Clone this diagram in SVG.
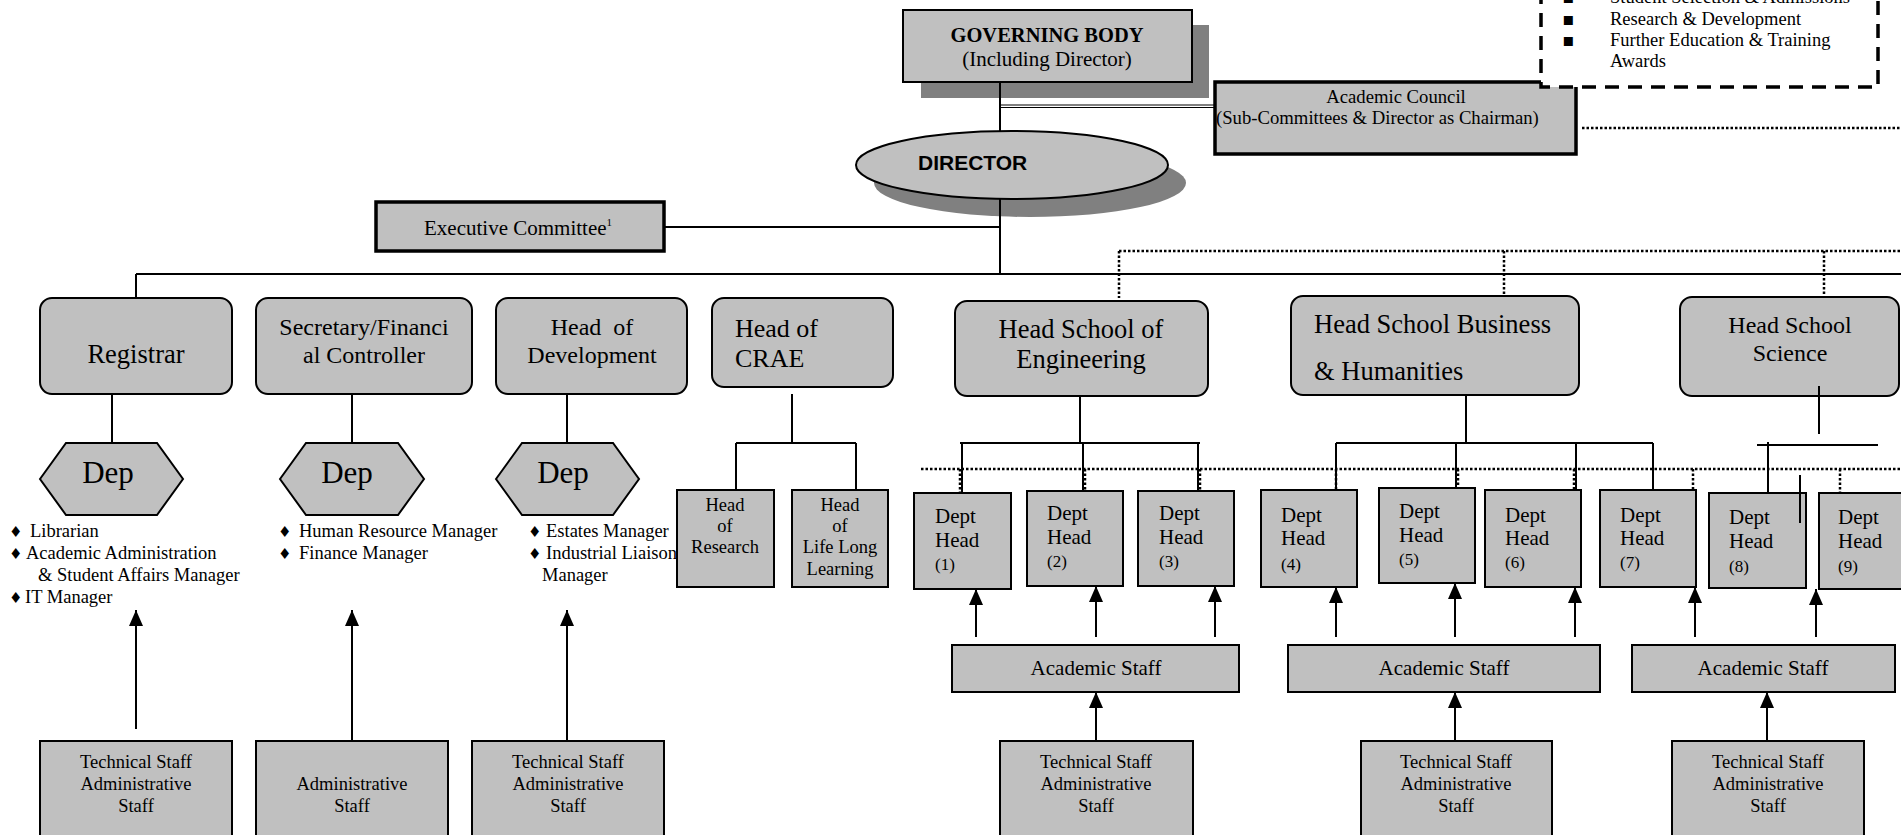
<svg xmlns="http://www.w3.org/2000/svg" width="1901" height="835" viewBox="0 0 1901 835">
<style>
.box{fill:#c0c0c0;stroke:#000;stroke-width:2}
.thick{stroke-width:3.5}
.sh{fill:#808080}
.t{font-family:"Liberation Serif","Times New Roman",serif;fill:#000}
.s18{font-size:18.5px}
.s21{font-size:21px}
.s24{font-size:24px}
.s26{font-size:26.5px}
.num{font-size:17px}
.m{text-anchor:middle}
.ln{stroke:#000;stroke-width:2;fill:none}
.thin{stroke:#000;stroke-width:1.2;fill:none}
.dot{stroke:#000;stroke-width:2.5;stroke-dasharray:2.5 2;fill:none}
.arr{stroke:#000;stroke-width:2;fill:none;marker-end:url(#ah)}
.bul{font-family:"DejaVu Sans",sans-serif;font-size:15px}
.sq{font-family:"DejaVu Sans",sans-serif;font-size:18px}
</style>
<defs>
<marker id="ah" viewBox="0 0 16 14" refX="16" refY="7" markerWidth="16" markerHeight="14" markerUnits="userSpaceOnUse" orient="auto">
<path d="M0,0 L16,7 L0,14 z" fill="#000"/>
</marker>
</defs>
<rect width="1901" height="835" fill="#fff"/>

<g id="governing-body">
<rect x="921" y="25" width="288" height="73" class="sh"/>
<rect x="903" y="10" width="289" height="72" class="box" stroke-width="3"/>
<text x="1047" y="42" class="t m" font-size="20.5" font-weight="bold">GOVERNING BODY</text>
<text x="1047" y="66" class="t m s21">(Including Director)</text>
</g>

<g id="academic-council">
<rect x="1215" y="82" width="361" height="72" class="box thick"/>
<text x="1396" y="103" class="t m" font-size="18.7">Academic Council</text>
<text x="1216" y="124" class="t" font-size="18.7">(Sub-Committees &amp; Director as Chairman)</text>
</g>

<g id="council-remit">
<rect x="1541" y="-30" width="337" height="117" fill="#fff" stroke="#000" stroke-width="3.5" stroke-dasharray="14 9"/>
<text class="t s18"><tspan x="1562" y="3" class="sq">▪</tspan><tspan x="1610" y="3">Student Selection &amp; Admissions</tspan></text>
<text class="t s18"><tspan x="1562" y="25" class="sq">▪</tspan><tspan x="1610" y="25">Research &amp; Development</tspan></text>
<text class="t s18"><tspan x="1562" y="46" class="sq">▪</tspan><tspan x="1610" y="46">Further Education &amp; Training</tspan></text>
<text x="1610" y="67" class="t s18">Awards</text>
</g>

<g id="director">
<ellipse cx="1030" cy="183" rx="156" ry="34" class="sh"/>
<ellipse cx="1012" cy="165" rx="156" ry="34" class="box" stroke-width="3"/>
<text x="918" y="170" font-family="'Liberation Sans',Arial,sans-serif" font-weight="bold" font-size="21">DIRECTOR</text>
</g>

<g id="executive-committee">
<rect x="376" y="202" width="288" height="49" class="box thick"/>
<text x="424" y="235" class="t s21">Executive Committee<tspan font-size="11" dy="-9">1</tspan></text>
</g>

<g id="registrar">
<rect x="40" y="298" width="192" height="96" rx="12" class="box"/>
<text x="136" y="363" class="t m s26">Registrar</text>
</g>
<g id="secretary">
<rect x="256" y="298" width="216" height="96" rx="12" class="box"/>
<text x="364" y="335" class="t m s24">Secretary/Financi</text>
<text x="364" y="363" class="t m s24">al Controller</text>
</g>
<g id="head-development">
<rect x="496" y="298" width="191" height="96" rx="12" class="box"/>
<text x="592" y="335" class="t m s24" xml:space="preserve">Head  of</text>
<text x="592" y="363" class="t m s24">Development</text>
</g>
<g id="head-crae">
<rect x="712" y="298" width="181" height="89" rx="12" class="box"/>
<text x="735" y="337" class="t" font-size="26">Head of</text>
<text x="735" y="367" class="t" font-size="26">CRAE</text>
</g>
<g id="head-engineering">
<rect x="955" y="301" width="253" height="95" rx="12" class="box"/>
<text x="1081" y="338" class="t m s26">Head School of</text>
<text x="1081" y="368" class="t m s26">Engineering</text>
</g>
<g id="head-business">
<rect x="1291" y="296" width="288" height="99" rx="12" class="box"/>
<text x="1314" y="333" class="t s26">Head School Business</text>
<text x="1314" y="380" class="t s26">&amp; Humanities</text>
</g>
<g id="head-science">
<rect x="1680" y="297" width="219" height="99" rx="12" class="box"/>
<text x="1790" y="333" class="t m s24">Head School</text>
<text x="1790" y="361" class="t m s24">Science</text>
</g>

<g id="dep-registrar">
<polygon points="40,479 66,443 157,443 183,479 157,515 66,515" class="box"/>
<text x="108" y="483" class="t m" font-size="31">Dep</text>
<text class="t s18"><tspan x="9" y="537" class="bul">♦</tspan><tspan x="30" y="537">Librarian</tspan></text>
<text class="t s18"><tspan x="9" y="559" class="bul">♦</tspan><tspan x="26" y="559">Academic Administration</tspan></text>
<text x="38" y="581" class="t s18">&amp; Student Affairs Manager</text>
<text class="t s18"><tspan x="9" y="603" class="bul">♦</tspan><tspan x="25" y="603">IT Manager</tspan></text>
</g>
<g id="dep-secretary">
<polygon points="280,479 306,443 398,443 424,479 398,515 306,515" class="box"/>
<text x="347" y="483" class="t m" font-size="31">Dep</text>
<text class="t s18"><tspan x="278" y="537" class="bul">♦</tspan><tspan x="299" y="537">Human Resource Manager</tspan></text>
<text class="t s18"><tspan x="278" y="559" class="bul">♦</tspan><tspan x="299" y="559">Finance Manager</tspan></text>
</g>
<g id="dep-development">
<polygon points="496,479 522,443 613,443 639,479 613,515 522,515" class="box"/>
<text x="563" y="483" class="t m" font-size="31">Dep</text>
<text class="t s18"><tspan x="528" y="537" class="bul">♦</tspan><tspan x="546" y="537">Estates Manager</tspan></text>
<text class="t s18"><tspan x="528" y="559" class="bul">♦</tspan><tspan x="546" y="559">Industrial Liaison</tspan></text>
<text x="542" y="581" class="t s18">Manager</text>
</g>

<g id="head-research">
<rect x="677" y="490" width="97" height="97" class="box"/>
<text x="725" y="511" class="t m s18">Head</text>
<text x="725" y="532" class="t m s18">of</text>
<text x="725" y="553" class="t m s18">Research</text>
</g>
<g id="head-lifelong">
<rect x="792" y="490" width="96" height="97" class="box"/>
<text x="840" y="511" class="t m s18">Head</text>
<text x="840" y="532" class="t m s18">of</text>
<text x="840" y="553" class="t m s18">Life Long</text>
<text x="840" y="575" class="t m s18">Learning</text>
</g>

<g id="dept-head-1"><rect x="914" y="493" width="97" height="96" class="box"/>
<text x="935" y="523" class="t s21">Dept</text><text x="935" y="547" class="t s21">Head</text><text x="935" y="570" class="t num">(1)</text></g>
<g id="dept-head-2"><rect x="1027" y="491" width="96" height="95" class="box"/>
<text x="1047" y="520" class="t s21">Dept</text><text x="1047" y="544" class="t s21">Head</text><text x="1047" y="567" class="t num">(2)</text></g>
<g id="dept-head-3"><rect x="1138" y="491" width="96" height="95" class="box"/>
<text x="1159" y="520" class="t s21">Dept</text><text x="1159" y="544" class="t s21">Head</text><text x="1159" y="567" class="t num">(3)</text></g>
<g id="dept-head-4"><rect x="1261" y="490" width="96" height="97" class="box"/>
<text x="1281" y="522" class="t s21">Dept</text><text x="1281" y="545" class="t s21">Head</text><text x="1281" y="570" class="t num">(4)</text></g>
<g id="dept-head-5"><rect x="1379" y="488" width="96" height="95" class="box"/>
<text x="1399" y="518" class="t s21">Dept</text><text x="1399" y="542" class="t s21">Head</text><text x="1399" y="565" class="t num">(5)</text></g>
<g id="dept-head-6"><rect x="1485" y="490" width="96" height="97" class="box"/>
<text x="1505" y="522" class="t s21">Dept</text><text x="1505" y="545" class="t s21">Head</text><text x="1505" y="568" class="t num">(6)</text></g>
<g id="dept-head-7"><rect x="1600" y="490" width="96" height="97" class="box"/>
<text x="1620" y="522" class="t s21">Dept</text><text x="1620" y="545" class="t s21">Head</text><text x="1620" y="568" class="t num">(7)</text></g>
<g id="dept-head-8"><rect x="1709" y="493" width="97" height="95" class="box"/>
<text x="1729" y="524" class="t s21">Dept</text><text x="1729" y="548" class="t s21">Head</text><text x="1729" y="572" class="t num">(8)</text></g>
<g id="dept-head-9"><rect x="1819" y="493" width="97" height="96" class="box"/>
<text x="1838" y="524" class="t s21">Dept</text><text x="1838" y="548" class="t s21">Head</text><text x="1838" y="572" class="t num">(9)</text></g>

<g id="academic-staff-eng"><rect x="952" y="645" width="287" height="47" class="box"/>
<text x="1096" y="675" class="t m s21">Academic Staff</text></g>
<g id="academic-staff-bus"><rect x="1288" y="645" width="312" height="47" class="box"/>
<text x="1444" y="675" class="t m s21">Academic Staff</text></g>
<g id="academic-staff-sci"><rect x="1632" y="645" width="263" height="47" class="box"/>
<text x="1763" y="675" class="t m s21">Academic Staff</text></g>

<g id="staff-registrar"><rect x="40" y="741" width="192" height="100" class="box"/>
<text x="136" y="768" class="t m s18">Technical Staff</text><text x="136" y="790" class="t m s18">Administrative</text><text x="136" y="812" class="t m s18">Staff</text></g>
<g id="staff-secretary"><rect x="256" y="741" width="192" height="100" class="box"/>
<text x="352" y="790" class="t m s18">Administrative</text><text x="352" y="812" class="t m s18">Staff</text></g>
<g id="staff-development"><rect x="472" y="741" width="192" height="100" class="box"/>
<text x="568" y="768" class="t m s18">Technical Staff</text><text x="568" y="790" class="t m s18">Administrative</text><text x="568" y="812" class="t m s18">Staff</text></g>
<g id="staff-eng"><rect x="1000" y="741" width="193" height="100" class="box"/>
<text x="1096" y="768" class="t m s18">Technical Staff</text><text x="1096" y="790" class="t m s18">Administrative</text><text x="1096" y="812" class="t m s18">Staff</text></g>
<g id="staff-bus"><rect x="1361" y="741" width="191" height="100" class="box"/>
<text x="1456" y="768" class="t m s18">Technical Staff</text><text x="1456" y="790" class="t m s18">Administrative</text><text x="1456" y="812" class="t m s18">Staff</text></g>
<g id="staff-sci"><rect x="1672" y="741" width="192" height="100" class="box"/>
<text x="1768" y="768" class="t m s18">Technical Staff</text><text x="1768" y="790" class="t m s18">Administrative</text><text x="1768" y="812" class="t m s18">Staff</text></g>

<g id="connectors">
<path class="ln" d="M1000 82V131M1000 199V274M664 227H1000"/>
<path class="thin" d="M1000 105H1215M1000 107.5H1215"/>
<path class="ln" d="M136 274H1901M136 274V298"/>
<path class="ln" d="M112 394V443M352 394V443M567 394V443"/>
<path class="ln" d="M792 394V443M736 443H856M736 443V490M856 443V490"/>
<path class="ln" d="M1080 396V443M960 443H1200M962 443V493M1083 443V491M1198 443V491"/>
<path class="ln" d="M1466 395V443M1336 443H1653M1336 443V490M1456 443V488M1576 443V490M1653 443V490"/>
<path class="ln" d="M1819 386V434M1757 445H1878M1768 442V493M1800 475V523"/>
<path class="dot" d="M1119 251H1901M1119 251V298M1504 251V296M1824 251V297"/>
<path class="dot" d="M1582 128H1901"/>
<path class="dot" d="M921 469H1901M960 469V493M1085 469V491M1200 469V491M1336 469V490M1458 469V488M1574 469V490M1693 469V490M1840 469V493"/>
<path class="arr" d="M136 729V610"/>
<path class="arr" d="M352 740V610"/>
<path class="arr" d="M567 740V610"/>
<path class="arr" d="M976 637V589"/>
<path class="arr" d="M1096 637V586"/>
<path class="arr" d="M1215 637V586"/>
<path class="arr" d="M1336 637V587"/>
<path class="arr" d="M1455 637V583"/>
<path class="arr" d="M1575 637V587"/>
<path class="arr" d="M1695 637V587"/>
<path class="arr" d="M1816 637V589"/>
<path class="arr" d="M1096 740V692"/>
<path class="arr" d="M1455 740V692"/>
<path class="arr" d="M1767 740V692"/>
</g>
</svg>
